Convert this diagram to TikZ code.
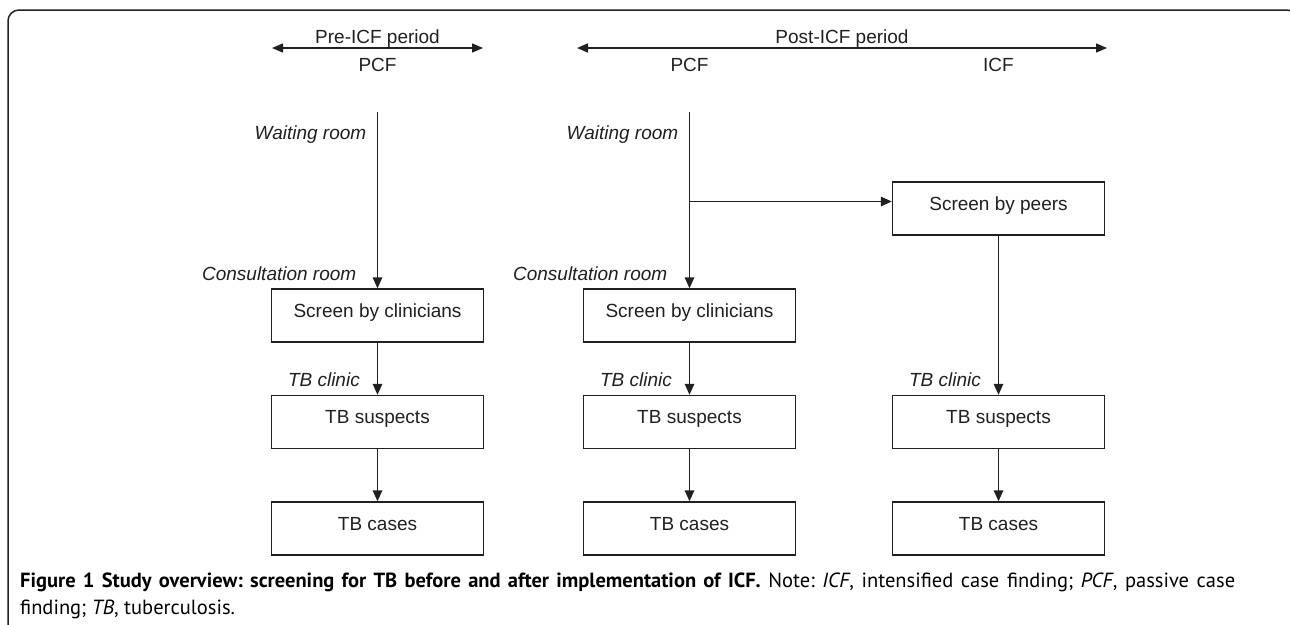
\documentclass[tikz,border=0pt]{standalone}
\usepackage{fontspec}
\setmainfont{Liberation Sans}
\newfontfamily\capfont{PT Sans}
\usetikzlibrary{arrows.meta}
\definecolor{ink}{RGB}{35,31,32}
\begin{document}
\begin{tikzpicture}[x=1pt,y=-1pt,
  diag/.style={font=\fontsize{19}{23}\selectfont, text=ink},
  box/.style={draw=ink, line width=1.4pt, minimum width=212pt, minimum height=53pt, inner sep=0pt, text height=14pt, text depth=11pt, diag},
  lab/.style={text=ink, font=\fontsize{19}{23}\selectfont\itshape, inner sep=0pt, anchor=base east},
  hdr/.style={diag, inner sep=0pt, anchor=base},
  arr/.style={draw=ink, line width=1.4pt, -{Triangle[length=11pt,width=9.5pt]}},
  dbl/.style={draw=ink, line width=1.4pt, {Triangle[length=11pt,width=9pt]}-{Triangle[length=11pt,width=9pt]}},
  captxt/.style={font=\capfont\fontsize{20.5}{24}\selectfont\frenchspacing, text=black, inner sep=0pt, anchor=base west},
]
\clip (0,0) rectangle (1290,624);
\fill[white] (0,0) rectangle (1290,624);
% frame
\draw[ink, line width=1.5pt, rounded corners=11pt] (8,640) -- (8,10) -- (1298,10) -- (1298,640);

% period headers
\node[hdr] (pre) at (377.5,43) {Pre-ICF period};
\coordinate (preL) at (272,48);
\coordinate (preR) at (483,48);
\draw[dbl] (preL) -- (preR);
\node[hdr] (post) at (842,43) {Post-ICF period};
\coordinate (postL) at (577,48);
\coordinate (postR) at (1107,48);
\draw[dbl] (postL) -- (postR);
\node[hdr] (pcf1) at (377.5,71) {PCF};
\node[hdr] (pcf2) at (689.5,71) {PCF};
\node[hdr] (icf) at (998.5,71) {ICF};

% boxes
\node[box] (peers) at (998.5,208.5) {Screen by peers};
\node[box] (sc1) at (377.5,315.5) {Screen by clinicians};
\node[box] (sc2) at (689.5,315.5) {Screen by clinicians};
\node[box] (su1) at (377.5,422) {TB suspects};
\node[box] (su2) at (689.5,422) {TB suspects};
\node[box] (su3) at (998.5,422) {TB suspects};
\node[box] (ca1) at (377.5,528.5) {TB cases};
\node[box] (ca2) at (689.5,528.5) {TB cases};
\node[box] (ca3) at (998.5,528.5) {TB cases};

% connectors
\coordinate (w1) at (377.5,112);
\coordinate (w2) at (689.5,112);
\coordinate (br) at (689.5,201.5);
\draw[arr] (w1) -- (sc1.north);
\draw[arr] (w2) -- (sc2.north);
\draw[arr] (br) -- (br -| peers.west);
\draw[arr] (sc1.south) -- (su1.north);
\draw[arr] (sc2.south) -- (su2.north);
\draw[arr] (peers.south) -- (su3.north);
\draw[arr] (su1.south) -- (ca1.north);
\draw[arr] (su2.south) -- (ca2.north);
\draw[arr] (su3.south) -- (ca3.north);

% location labels
\node[lab] (wr1) at (366.5,139) {Waiting room};
\node[lab] (wr2) at (678.5,139) {Waiting room};
\node[lab] (cr1) at (356.5,280) {Consultation room};
\node[lab] (cr2) at (667.5,280) {Consultation room};
\node[lab] (tc1) at (360,386.5) {TB clinic};
\node[lab] (tc2) at (672,386.5) {TB clinic};
\node[lab] (tc3) at (981,386.5) {TB clinic};

% caption
\node[captxt] (cap1) at (20,587) {\makebox[1215pt][s]{\textbf{Figure 1 Study overview: screening for TB before and after implementation of ICF.} Note: \textit{ICF}, intensified case finding; \textit{PCF}, passive case}};
\node[captxt] (cap2) at (20,614) {finding; \textit{TB}, tuberculosis.};
\end{tikzpicture}
\end{document}
